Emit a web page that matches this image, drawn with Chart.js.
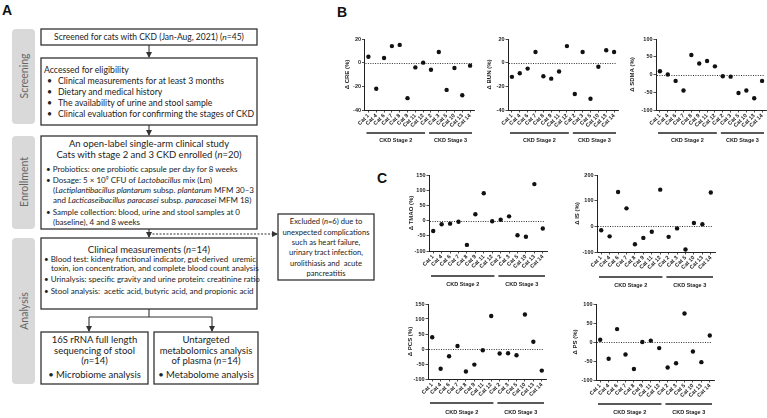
<!DOCTYPE html>
<html>
<head>
<meta charset="utf-8">
<script src="https://cdn.jsdelivr.net/npm/chart.js@4.4.0/dist/chart.umd.min.js"></script>
<style>
  body { margin: 0; background: #fff; }
  #page { position: relative; width: 767px; height: 418px; overflow: hidden; background: #fff; }
  canvas { position: absolute; }
  .t { position: absolute; height: 12px; line-height: 12px; white-space: nowrap; font-family: Lato, sans-serif; color: #222; }
  .c { text-align: center; }
  .f85 { font-size: 8.5px; }
  .f9 { font-size: 8.7px; }
  .f95 { font-size: 9.5px; }
  .f8 { font-size: 8px; }
  .f76 { font-size: 7.6px; }
  .panel { position: absolute; font: bold 14px "Liberation Sans", Arial, sans-serif; color: #111; line-height: 14px; }
  sup { font-size: 5px; vertical-align: 3px; line-height: 0; }
</style>
</head>
<body>
<div id="page">
  <svg width="767" height="418" style="position:absolute;left:0;top:0">
    <defs>
      <marker id="ah" markerWidth="6" markerHeight="6" refX="5" refY="3" orient="auto" markerUnits="userSpaceOnUse">
        <path d="M0,0 L6,3 L0,6 z" fill="#333"/>
      </marker>
    </defs>
    <g fill="#d9d9d9">
      <rect x="12" y="29" width="23" height="95" rx="4"/>
      <rect x="12" y="136" width="23" height="93" rx="4"/>
      <rect x="12" y="238" width="23" height="146" rx="4"/>
    </g>
    <g font-family="Lato, sans-serif" font-size="10.5" fill="#666" text-anchor="middle" dominant-baseline="central">
      <text transform="translate(24,76) rotate(-90)">Screening</text>
      <text transform="translate(24,182) rotate(-90)">Enrollment</text>
      <text transform="translate(24,311) rotate(-90)">Analysis</text>
    </g>
    <g fill="#fff" stroke="#333" stroke-width="1.3">
      <rect x="41" y="29" width="216" height="16"/>
      <rect x="41" y="58" width="216" height="67"/>
      <rect x="41" y="136" width="216" height="93"/>
      <rect x="41" y="238" width="216" height="71"/>
      <rect x="278" y="214" width="96" height="66"/>
      <rect x="41" y="332" width="107" height="52"/>
      <rect x="154" y="332" width="104" height="52"/>
    </g>
    <g stroke="#333" stroke-width="1.1" fill="none">
      <line x1="149" y1="45" x2="149" y2="57" marker-end="url(#ah)"/>
      <line x1="149" y1="125" x2="149" y2="135" marker-end="url(#ah)"/>
      <line x1="149" y1="229" x2="149" y2="237" marker-end="url(#ah)"/>
      <line x1="149" y1="234" x2="277" y2="234" stroke-dasharray="2,1.5" marker-end="url(#ah)"/>
      <line x1="149" y1="309" x2="149" y2="317"/>
      <line x1="89" y1="317" x2="212" y2="317"/>
      <line x1="89" y1="317" x2="89" y2="331" marker-end="url(#ah)"/>
      <line x1="212" y1="317" x2="212" y2="331" marker-end="url(#ah)"/>
    </g>
  </svg>

  <div class="panel" style="left:2px;top:3px">A</div>
  <div class="panel" style="left:337px;top:5px">B</div>
  <div class="panel" style="left:377px;top:171px">C</div>

  <div class="t c f85" style="left:41px;top:31px;width:216px">Screened for cats with CKD (Jan-Aug, 2021) (<i>n</i>=45)</div>

  <div class="t f9" style="left:44px;top:64px">Accessed for eligibility</div>
  <div class="t f9" style="left:47px;top:75px">•</div><div class="t f9" style="left:58px;top:75px">Clinical measurements for at least 3 months</div>
  <div class="t f9" style="left:47px;top:86px">•</div><div class="t f9" style="left:58px;top:86px">Dietary and medical history</div>
  <div class="t f9" style="left:47px;top:97px">•</div><div class="t f9" style="left:58px;top:97px">The availability of urine and stool sample</div>
  <div class="t f9" style="left:47px;top:108px">•</div><div class="t f9" style="left:58px;top:108px">Clinical evaluation for confirming the stages of CKD</div>

  <div class="t c f95" style="left:41px;top:138px;width:216px">An open-label single-arm clinical study</div>
  <div class="t c f95" style="left:41px;top:149px;width:216px">Cats with stage 2 and 3 CKD enrolled (<i>n</i>=20)</div>
  <div class="t f8" style="left:46px;top:163px">• Probiotics: one probiotic capsule per day for 8 weeks</div>
  <div class="t f8" style="left:46px;top:174px">• Dosage: 5 × 10<sup>9</sup> CFU of <i>Lactobacillus</i> mix (Lm)</div>
  <div class="t f8" style="left:53px;top:184px">(<i>Lactiplantibacillus plantarum</i> subsp. <i>plantarum</i> MFM 30–3</div>
  <div class="t f8" style="left:53px;top:194px">and <i>Lacticaseibacillus paracasei</i> subsp. <i>paracasei</i> MFM 18)</div>
  <div class="t f8" style="left:46px;top:206px">• Sample collection: blood, urine and stool samples at 0</div>
  <div class="t f8" style="left:53px;top:216px">(baseline), 4 and 8 weeks</div>

  <div class="t c f76" style="left:278px;top:215px;width:96px">Excluded (<i>n</i>=6) due to</div>
  <div class="t c f76" style="left:278px;top:226px;width:96px">unexpected complications</div>
  <div class="t c f76" style="left:278px;top:236px;width:96px">such as heart failure,</div>
  <div class="t c f76" style="left:278px;top:246px;width:96px">urinary tract infection,</div>
  <div class="t c f76" style="left:278px;top:257px;width:96px">urolithiasis and &nbsp;acute</div>
  <div class="t c f76" style="left:278px;top:267px;width:96px">pancreatitis</div>

  <div class="t c f95" style="left:41px;top:244px;width:216px">Clinical measurements (<i>n</i>=14)</div>
  <div class="t f8" style="left:44px;top:253px">• Blood test: kidney functional indicator, gut-derived &nbsp;uremic</div>
  <div class="t f8" style="left:51px;top:262px">toxin, ion concentration, and complete blood count analysis</div>
  <div class="t f8" style="left:44px;top:273px">• Urinalysis: specific gravity and urine protein: creatinine ratio</div>
  <div class="t f8" style="left:44px;top:285px">• Stool analysis: &nbsp;acetic acid, butyric acid, and propionic acid</div>

  <div class="t c f95" style="left:41px;top:334px;width:107px">16S rRNA full length</div>
  <div class="t c f95" style="left:41px;top:345px;width:107px">sequencing of stool</div>
  <div class="t c f95" style="left:41px;top:355px;width:107px">(<i>n</i>=14)</div>
  <div class="t c f95" style="left:41px;top:369px;width:107px">• Microbiome analysis</div>

  <div class="t c f95" style="left:154px;top:334px;width:104px">Untargeted</div>
  <div class="t c f95" style="left:154px;top:345px;width:104px">metabolomics analysis</div>
  <div class="t c f95" style="left:154px;top:355px;width:104px">of plasma (<i>n</i>=14)</div>
  <div class="t c f95" style="left:154px;top:369px;width:104px">• Metabolome analysis</div>

  <canvas id="cre"></canvas>
  <canvas id="bun"></canvas>
  <canvas id="sdma"></canvas>
  <canvas id="tmao"></canvas>
  <canvas id="is"></canvas>
  <canvas id="pcs"></canvas>
  <canvas id="ps"></canvas>
</div>

<script>
// cats in plot order, stage 2 first then stage 3
const categories = ['Cat 1', 'Cat 4', 'Cat 6', 'Cat 7', 'Cat 8', 'Cat 9', 'Cat 11', 'Cat 12',
                    'Cat 2', 'Cat 3', 'Cat 5', 'Cat 10', 'Cat 13', 'Cat 14'];
const stageNames = ['CKD Stage 2', 'CKD Stage 3'];
const stageSizes = [8, 6];

// percent change values
const creValues  = [5, -22, 4, 14, 15, -30, -4, 0, -6, 9, -23, -4.5, -27.5, -2.5];
const bunValues  = [-12, -9, -5, 9, -11.5, -13.5, -7.5, 14, -26.5, 9, -30.5, -3.5, 10.5, 9];
const sdmaValues = [9, 0, -18, -45, 55, 31, 38, 23, -5, -6, -52, -45, -67, -18];
const tmaoValues = [-34, -12, -10, -4, -80, 21, 90, -2, 3, 14, -48, -53, 120, -26];
const isValues   = [-15, -39, 134, 70, -70, -45, -21, 143, -41, -8, -90, 13, 8, 132];
const pcsValues  = [39, -66, -24, 10, -75, -52, -4, 110, -15, -14, -21, 115, 24, -72];
const psValues   = [6, -44, 34, -33, -71, 0, 3.5, -16, -67, -56, 75, -25, -53, 17];

// y axis [min, max, step]
const creRange  = [-40, 20, 20];
const bunRange  = [-40, 20, 20];
const sdmaRange = [-100, 100, 50];
const tmaoRange = [-100, 150, 50];
const isRange   = [-100, 200, 100];
const pcsRange  = [-100, 150, 50];
const psRange   = [-100, 100, 50];

const ink = '#222';
const tickFont = { family: '"Liberation Sans", Arial, sans-serif', size: 5.5, weight: 'bold' };
const titleFont = { family: '"Liberation Sans", Arial, sans-serif', size: 6, weight: 'bold' };

// dotted zero line + stage bars under the x axis
const stagesPlugin = {
    id: 'stages',
    beforeDatasetsDraw(chart) {
        const { ctx, chartArea, scales: { x, y } } = chart;
        const y0 = Math.round(y.getPixelForValue(0)) + 0.5;
        ctx.save();
        ctx.strokeStyle = '#333';
        ctx.lineWidth = 1;
        ctx.setLineDash([1, 1.4]);
        ctx.beginPath();
        ctx.moveTo(chartArea.left + 1, y0);
        ctx.lineTo(x.getPixelForValue(categories.length - 1) + 2, y0);
        ctx.stroke();
        ctx.restore();
    },
    afterDraw(chart, args, opts) {
        const { ctx, chartArea, scales: { x } } = chart;
        const w = x.getPixelForValue(1) - x.getPixelForValue(0);
        const barY = chartArea.bottom + opts.barDy;
        ctx.save();
        ctx.strokeStyle = ink;
        ctx.lineWidth = 1.6;
        ctx.fillStyle = ink;
        ctx.font = 'bold 5.5px "Liberation Sans", Arial, sans-serif';
        ctx.textAlign = 'center';
        ctx.textBaseline = 'middle';
        let start = 0;
        stageNames.forEach((name, i) => {
            const end = start + stageSizes[i] - 1;
            const x1 = x.getPixelForValue(start) - w / 2 + 2;
            const x2 = x.getPixelForValue(end) + w / 2 - 2;
            ctx.beginPath();
            ctx.moveTo(x1, barY);
            ctx.lineTo(x2, barY);
            ctx.stroke();
            ctx.fillText(name, (x1 + x2) / 2, chartArea.bottom + opts.textDy);
            start = end + 1;
        });
        ctx.restore();
    }
};

function makeChart(id, title, values, range, pos) {
    // pos: axis x, plot top, plot width, plot height, y axis width, bar offset, text offset
    const [axisX, top, plotW, plotH, yW, barDy, textDy] = pos;
    const padTop = 6, padRight = 3, xH = 44;
    const cv = document.getElementById(id);
    cv.width = Math.round(yW + plotW + padRight);
    cv.height = Math.round(padTop + plotH + xH);
    cv.style.left = (axisX - yW) + 'px';
    cv.style.top = (top - padTop) + 'px';

    return new Chart(cv, {
        type: 'line',
        data: {
            labels: categories,
            datasets: [{
                data: values,
                showLine: false,
                pointRadius: 2.2,
                pointBackgroundColor: '#111',
                pointBorderWidth: 0
            }]
        },
        options: {
            responsive: false,
            animation: false,
            events: [],
            layout: { padding: { top: padTop, right: padRight, left: 0, bottom: 0 } },
            plugins: {
                legend: { display: false },
                tooltip: { enabled: false },
                stages: { barDy: barDy, textDy: textDy }
            },
            scales: {
                x: {
                    offset: true,
                    grid: { drawOnChartArea: false, tickLength: 2.5, color: ink, lineWidth: 0.8 },
                    border: { color: ink, width: 1 },
                    ticks: { autoSkip: false, minRotation: 45, maxRotation: 45, padding: 0, font: tickFont, color: ink },
                    afterFit: s => { s.height = xH; }
                },
                y: {
                    min: range[0],
                    max: range[1],
                    grid: { drawOnChartArea: false, tickLength: 2.5, color: ink, lineWidth: 0.8 },
                    border: { color: ink, width: 1 },
                    ticks: { stepSize: range[2], padding: 1, font: tickFont, color: ink },
                    title: { display: true, text: title, padding: 0, font: titleFont, color: ink },
                    afterFit: s => { s.width = yW; }
                }
            }
        },
        plugins: [stagesPlugin]
    });
}

makeChart('cre',  'Δ CRE (%)',  creValues,  creRange,  [364.3, 39.3, 110.6, 70.7, 20.5, 23, 30]);
makeChart('bun',  'Δ BUN (%)',  bunValues,  bunRange,  [508.4, 39.3, 110.6, 70.7, 22, 23, 30]);
makeChart('sdma', 'Δ SDMA (%)', sdmaValues, sdmaRange, [656, 39.3, 110.6, 70.7, 27, 23, 30]);
makeChart('tmao', 'Δ TMAO (%)', tmaoValues, tmaoRange, [428.5, 175.3, 118.5, 75.7, 21, 25, 33]);
makeChart('is',   'Δ IS (%)',   isValues,   isRange,   [596.5, 175, 118.5, 76.7, 23, 25, 33]);
makeChart('pcs',  'Δ PCS (%)',  pcsValues,  pcsRange,  [427.8, 303.7, 118.5, 75.3, 21, 24, 33]);
makeChart('ps',   'Δ PS (%)',   psValues,   psRange,   [595.8, 304, 118.5, 76, 24, 24, 32]);
</script>
</body>
</html>
